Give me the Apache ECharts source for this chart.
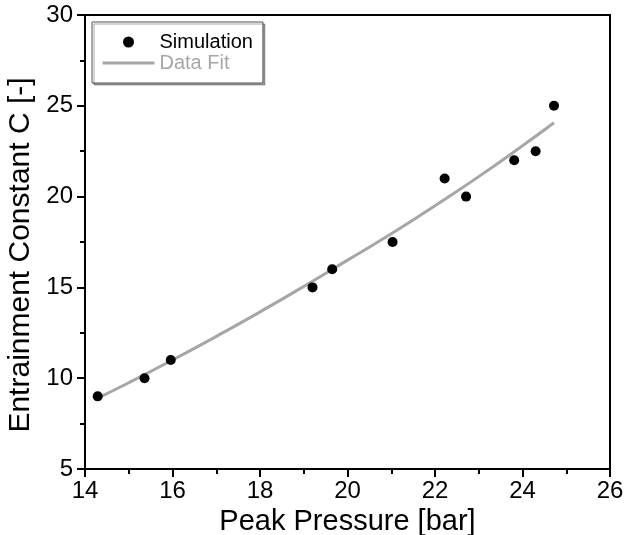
<!DOCTYPE html>
<html>
<head>
<meta charset="utf-8">
<script src="https://cdn.jsdelivr.net/npm/echarts@6/dist/echarts.min.js"></script>
<style>
  html, body { margin: 0; padding: 0; background: #fff; }
  #chart { width: 624px; height: 535px; }
</style>
</head>
<body>
<div id="chart"></div>
<script>
// Simulated peak pressure [bar] and entrainment constant C [-]
const simPressure = [14.29, 15.36, 15.96, 19.2, 19.65, 21.03, 22.22, 22.71, 23.81, 24.3, 24.72];
const simEntrain  = [9.0, 10.0, 11.0, 15.0, 16.0, 17.5, 21.0, 20.0, 22.0, 22.5, 25.0];

// Fitted curve, sampled along the pressure range
const fitPressure = [14.29, 15, 16, 17, 18, 19, 20, 21, 22, 23, 24, 24.72];
const fitEntrain  = [8.9, 9.75, 11.0, 12.3, 13.65, 15.05, 16.5, 17.95, 19.5, 21.1, 22.8, 24.07];

const xTicks = { min: 14, max: 26, step: 2 };
const yTicks = { min: 5, max: 30, step: 5 };

const font = 'Liberation Sans, Arial, Helvetica, sans-serif';

const pair = (xs, ys) => xs.map((x, i) => [x, ys[i]]);

const chart = echarts.init(document.getElementById('chart'), null, { renderer: 'canvas' });

const axisCommon = {
  type: 'value',
  nameLocation: 'middle',
  nameTextStyle: { fontFamily: font, fontSize: 29, color: '#000' },
  axisLine: { show: true, onZero: false, lineStyle: { color: '#000', width: 2 } },
  axisTick: { show: true, inside: false, length: 8, lineStyle: { color: '#000', width: 2 } },
  minorTick: { show: true, splitNumber: 2, length: 5, lineStyle: { color: '#000', width: 2 } },
  splitLine: { show: false },
  axisLabel: { fontFamily: font, fontSize: 24, color: '#000' }
};

chart.setOption({
  animation: false,
  backgroundColor: '#fff',
  grid: {
    left: 85, right: 14, top: 15, bottom: 66,
    containLabel: false,
    outerBoundsMode: 'none',
    show: true, borderColor: '#000', borderWidth: 2, backgroundColor: 'transparent'
  },
  legend: {
    orient: 'vertical',
    left: 92, top: 22,
    padding: [10, 10, 10, 9],
    itemGap: 1,
    itemWidth: 52,
    itemHeight: 11,
    borderColor: '#555',
    borderWidth: 1,
    shadowColor: 'rgba(0,0,0,0.35)',
    shadowOffsetX: 2,
    shadowOffsetY: 2,
    backgroundColor: '#fff',
    textStyle: { fontFamily: font, fontSize: 20, color: '#000' },
    data: [
      { name: 'Simulation', icon: 'circle', textStyle: { color: '#000' } },
      {
        name: 'Data Fit',
        textStyle: { color: '#a6a6a6' },
        itemStyle: { opacity: 0 },
        lineStyle: { width: 3, color: '#a6a6a6', opacity: 1 }
      }
    ]
  },
  xAxis: Object.assign({}, axisCommon, {
    name: 'Peak Pressure [bar]',
    nameGap: 31,
    min: xTicks.min, max: xTicks.max, interval: xTicks.step,
    axisLabel: Object.assign({}, axisCommon.axisLabel, { margin: 10 })
  }),
  yAxis: Object.assign({}, axisCommon, {
    name: 'Entrainment Constant C [-]',
    nameGap: 46,
    nameTextStyle: Object.assign({}, axisCommon.nameTextStyle, { fontSize: 30, padding: [0, 26, 0, 0] }),
    min: yTicks.min, max: yTicks.max, interval: yTicks.step,
    axisLabel: Object.assign({}, axisCommon.axisLabel, { margin: 12 })
  }),
  series: [
    {
      name: 'Data Fit',
      type: 'line',
      data: pair(fitPressure, fitEntrain),
      smooth: true,
      symbol: 'none',
      lineStyle: { color: '#a6a6a6', width: 3 },
      itemStyle: { color: '#a6a6a6' },
      z: 2
    },
    {
      name: 'Simulation',
      type: 'scatter',
      data: pair(simPressure, simEntrain),
      symbol: 'circle',
      symbolSize: 10,
      itemStyle: { color: '#000', opacity: 1 },
      z: 3
    }
  ]
});
</script>
</body>
</html>
